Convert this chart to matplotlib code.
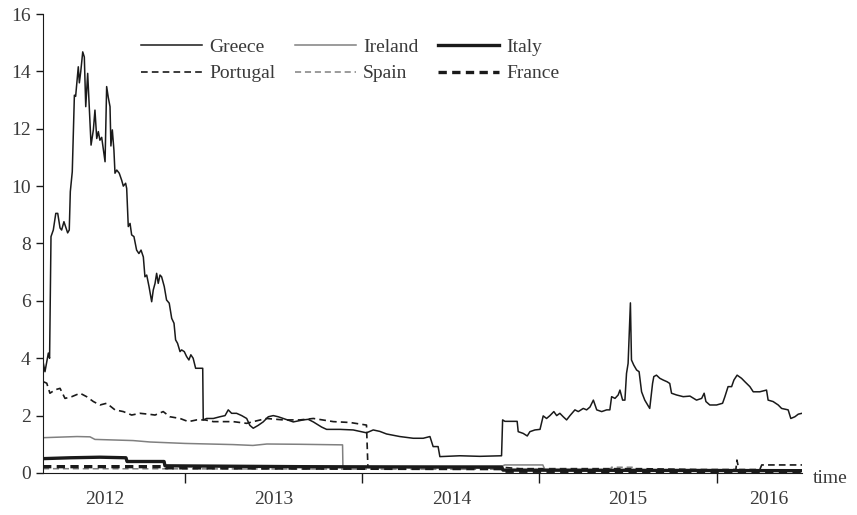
import matplotlib.pyplot as plt
import numpy as np

# spreads, time in decimal years
greece_t = [2012.199, 2012.210, 2012.229, 2012.236, 2012.244, 2012.257, 2012.271, 2012.282,
            2012.295, 2012.304, 2012.317, 2012.329, 2012.338, 2012.347, 2012.353, 2012.364,
            2012.376, 2012.383, 2012.391, 2012.398, 2012.404, 2012.412, 2012.423, 2012.432,
            2012.440, 2012.451, 2012.460, 2012.470, 2012.483, 2012.492, 2012.502, 2012.511,
            2012.520, 2012.530, 2012.549, 2012.558, 2012.567, 2012.577, 2012.582, 2012.590,
            2012.599, 2012.605, 2012.615, 2012.629, 2012.643, 2012.652, 2012.665, 2012.671,
            2012.680, 2012.690, 2012.699, 2012.712, 2012.727, 2012.740, 2012.752, 2012.765,
            2012.774, 2012.784, 2012.797, 2012.812, 2012.821, 2012.831, 2012.840, 2012.849,
            2012.859, 2012.868, 2012.883, 2012.896, 2012.911, 2012.925, 2012.938, 2012.947,
            2012.958, 2012.972, 2012.981, 2012.996, 2013.009, 2013.022, 2013.033, 2013.046,
            2013.060, 2013.100, 2013.103, 2013.122, 2013.160, 2013.197, 2013.226, 2013.244,
            2013.263, 2013.291, 2013.320, 2013.348, 2013.366, 2013.385, 2013.413, 2013.441,
            2013.470, 2013.498, 2013.526, 2013.554, 2013.611, 2013.667, 2013.695, 2013.724,
            2013.771, 2013.799, 2013.874, 2013.949, 2014.024, 2014.062, 2014.099, 2014.137,
            2014.212, 2014.288, 2014.344, 2014.382, 2014.400, 2014.428, 2014.438, 2014.551,
            2014.664, 2014.786, 2014.792, 2014.805, 2014.874, 2014.880, 2014.908, 2014.931,
            2014.946, 2014.974, 2015.003, 2015.021, 2015.040, 2015.059, 2015.081, 2015.097,
            2015.115, 2015.134, 2015.153, 2015.172, 2015.200, 2015.219, 2015.247, 2015.266,
            2015.285, 2015.304, 2015.323, 2015.351, 2015.379, 2015.397, 2015.407, 2015.426,
            2015.444, 2015.454, 2015.469, 2015.482, 2015.491, 2015.500, 2015.513, 2015.519,
            2015.532, 2015.548, 2015.562, 2015.576, 2015.594, 2015.622, 2015.638, 2015.645,
            2015.660, 2015.679, 2015.698, 2015.720, 2015.735, 2015.745, 2015.773, 2015.811,
            2015.849, 2015.886, 2015.915, 2015.929, 2015.939, 2015.961, 2015.999, 2016.033,
            2016.046, 2016.064, 2016.084, 2016.097, 2016.115, 2016.140, 2016.159, 2016.187,
            2016.206, 2016.243, 2016.281, 2016.290, 2016.318, 2016.347, 2016.366, 2016.403,
            2016.418, 2016.441, 2016.460, 2016.481]
greece = [3.88, 3.53, 4.18, 4.00, 8.24, 8.47, 9.05, 9.05,
          8.54, 8.47, 8.76, 8.54, 8.37, 8.47, 9.81, 10.5,
          13.17, 13.13, 13.70, 14.16, 13.60, 14.00, 14.68, 14.50,
          12.77, 13.93, 12.77, 11.43, 11.96, 12.65, 11.66, 11.90,
          11.60, 11.70, 10.85, 13.47, 13.10, 12.77, 11.40, 11.96,
          11.26, 10.45, 10.56, 10.45, 10.20, 10.00, 10.10, 9.92,
          8.59, 8.70, 8.30, 8.24, 7.77, 7.65, 7.77, 7.53,
          6.84, 6.90, 6.50, 5.97, 6.38, 6.61, 6.96, 6.61,
          6.90, 6.84, 6.50, 6.03, 5.92, 5.39, 5.22, 4.64,
          4.52, 4.23, 4.29, 4.23, 4.06, 3.94, 4.12, 4.00,
          3.65, 3.65, 1.85, 1.90, 1.90, 1.96, 2.00, 2.20,
          2.08, 2.08, 2.00, 1.90, 1.66, 1.56, 1.66, 1.78,
          1.96, 2.00, 1.96, 1.90, 1.78, 1.85, 1.87, 1.78,
          1.60, 1.52, 1.52, 1.50, 1.40, 1.50, 1.45, 1.36,
          1.27, 1.21, 1.21, 1.27, 0.92, 0.92, 0.57, 0.60,
          0.58, 0.60, 1.85, 1.80, 1.80, 1.44, 1.38, 1.29,
          1.44, 1.50, 1.52, 1.99, 1.90, 2.00, 2.14, 2.00,
          2.08, 1.96, 1.85, 2.00, 2.20, 2.14, 2.25, 2.20,
          2.30, 2.54, 2.20, 2.14, 2.20, 2.20, 2.66, 2.60,
          2.72, 2.89, 2.54, 2.54, 3.47, 3.82, 5.93, 3.94,
          3.76, 3.59, 3.53, 2.83, 2.54, 2.25, 3.12, 3.36,
          3.41, 3.30, 3.24, 3.18, 3.12, 2.78, 2.72, 2.66,
          2.68, 2.54, 2.60, 2.78, 2.49, 2.37, 2.37, 2.43,
          2.66, 3.01, 3.01, 3.24, 3.41, 3.30, 3.18, 3.01,
          2.83, 2.83, 2.89, 2.54, 2.49, 2.37, 2.25, 2.20,
          1.90, 1.96, 2.05, 2.08]

portugal_t = [2012.201, 2012.220, 2012.238, 2012.267, 2012.295, 2012.323, 2012.361, 2012.408,
              2012.445, 2012.483, 2012.520, 2012.558, 2012.605, 2012.652, 2012.699, 2012.746,
              2012.793, 2012.831, 2012.877, 2012.915, 2012.972, 2013.019, 2013.066, 2013.113,
              2013.160, 2013.272, 2013.348, 2013.385, 2013.460, 2013.554, 2013.649, 2013.724,
              2013.837, 2013.931, 2014.024, 2014.032, 2014.212, 2014.788, 2014.890, 2015.566,
              2015.905, 2016.108, 2016.114, 2016.125, 2016.243, 2016.254, 2016.481]
portugal = [3.18, 3.13, 2.78, 2.90, 2.95, 2.60, 2.66, 2.78,
            2.66, 2.49, 2.37, 2.43, 2.20, 2.14, 2.02, 2.08,
            2.05, 2.02, 2.14, 1.96, 1.90, 1.79, 1.85, 1.85,
            1.79, 1.79, 1.73, 1.79, 1.90, 1.85, 1.85, 1.90,
            1.79, 1.76, 1.67, 0.20, 0.20, 0.20, 0.15, 0.15,
            0.12, 0.12, 0.45, 0.12, 0.12, 0.28, 0.28]

ireland_t = [2012.199, 2012.391, 2012.464, 2012.492, 2012.707, 2012.803, 2013.000, 2013.271,
             2013.383, 2013.462, 2013.649, 2013.889, 2013.891, 2014.793, 2014.804, 2015.019,
             2015.030, 2016.481]
ireland = [1.23, 1.27, 1.26, 1.17, 1.13, 1.08, 1.03, 0.99,
           0.96, 1.01, 1.00, 0.98, 0.22, 0.25, 0.28, 0.28,
           0.12, 0.10]

italy_t = [2012.199, 2012.353, 2012.520, 2012.667, 2012.673, 2012.882, 2012.887, 2013.649,
           2014.788, 2014.794, 2016.481]
italy = [0.50, 0.53, 0.55, 0.53, 0.40, 0.40, 0.25, 0.22,
         0.20, 0.10, 0.08]

spain_t = [2012.199, 2014.788, 2014.794, 2015.400, 2015.406, 2015.530, 2015.536, 2016.481]
spain = [0.15, 0.13, 0.10, 0.10, 0.20, 0.20, 0.08, 0.07]

france_t = [2012.199, 2012.887, 2012.893, 2014.788, 2014.794, 2016.481]
france = [0.22, 0.22, 0.18, 0.15, 0.06, 0.05]

years = ['2012', '2013', '2014', '2015', '2016']
year_label_pos = [2012.549, 2013.502, 2014.505, 2015.498, 2016.293]
year_ticks = [2013, 2014, 2015, 2016]

plt.rcParams['font.family'] = ['Liberation Serif', 'DejaVu Serif']
txt = '#3a3a3a'
fs = 14

fig = plt.figure(figsize=(8.57, 5.15), dpi=100)
ax = fig.add_axes([0.0502, 0.0816, 0.8856, 0.8912])

ax.plot(greece_t, greece, color='#1a1a1a', lw=1.1, label='Greece')
ax.plot(portugal_t, portugal, color='#1a1a1a', lw=1.2, ls=(0, (4, 2.5)), label='Portugal')
ax.plot(ireland_t, ireland, color='#808080', lw=1.1, label='Ireland')
ax.plot(spain_t, spain, color='#808080', lw=1.1, ls=(0, (4, 2.5)), label='Spain')
ax.plot(italy_t, italy, color='#1a1a1a', lw=2.4, label='Italy')
ax.plot(france_t, france, color='#1a1a1a', lw=2.4, ls=(0, (2.5, 1.6)), label='France')

ax.set_xlim(2012.199, 2016.481)
ax.set_ylim(0, 16)
ax.set_yticks(np.arange(0, 17, 2))

# year ticks at boundaries, labels in between
ax.set_xticks(year_ticks)
ax.set_xticklabels([])
ax.set_xticks(year_label_pos, minor=True)
ax.set_xticklabels(years, minor=True)
ax.tick_params(axis='x', which='major', length=7, width=1, color='#1a1a1a')
ax.tick_params(axis='x', which='minor', length=0, pad=13, labelsize=fs, labelcolor=txt)
ax.tick_params(axis='y', length=5, width=1, color='#1a1a1a', labelsize=fs, labelcolor=txt, pad=4)

for s in ['top', 'right']:
    ax.spines[s].set_visible(False)
for s in ['left', 'bottom']:
    ax.spines[s].set_color('#1a1a1a')

ax.annotate('time', xy=(1, 0), xycoords='axes fraction', xytext=(8, -4),
            textcoords='offset points', ha='left', va='center', fontsize=fs, color=txt)

leg = ax.legend(ncol=3, frameon=False, loc='upper left', bbox_to_anchor=(0.116, 0.968),
                fontsize=fs, handlelength=3.15, handletextpad=0.36, columnspacing=1.0,
                labelspacing=0.45, borderpad=0)
for t in leg.get_texts():
    t.set_color(txt)

plt.savefig('out.png', dpi=100)
